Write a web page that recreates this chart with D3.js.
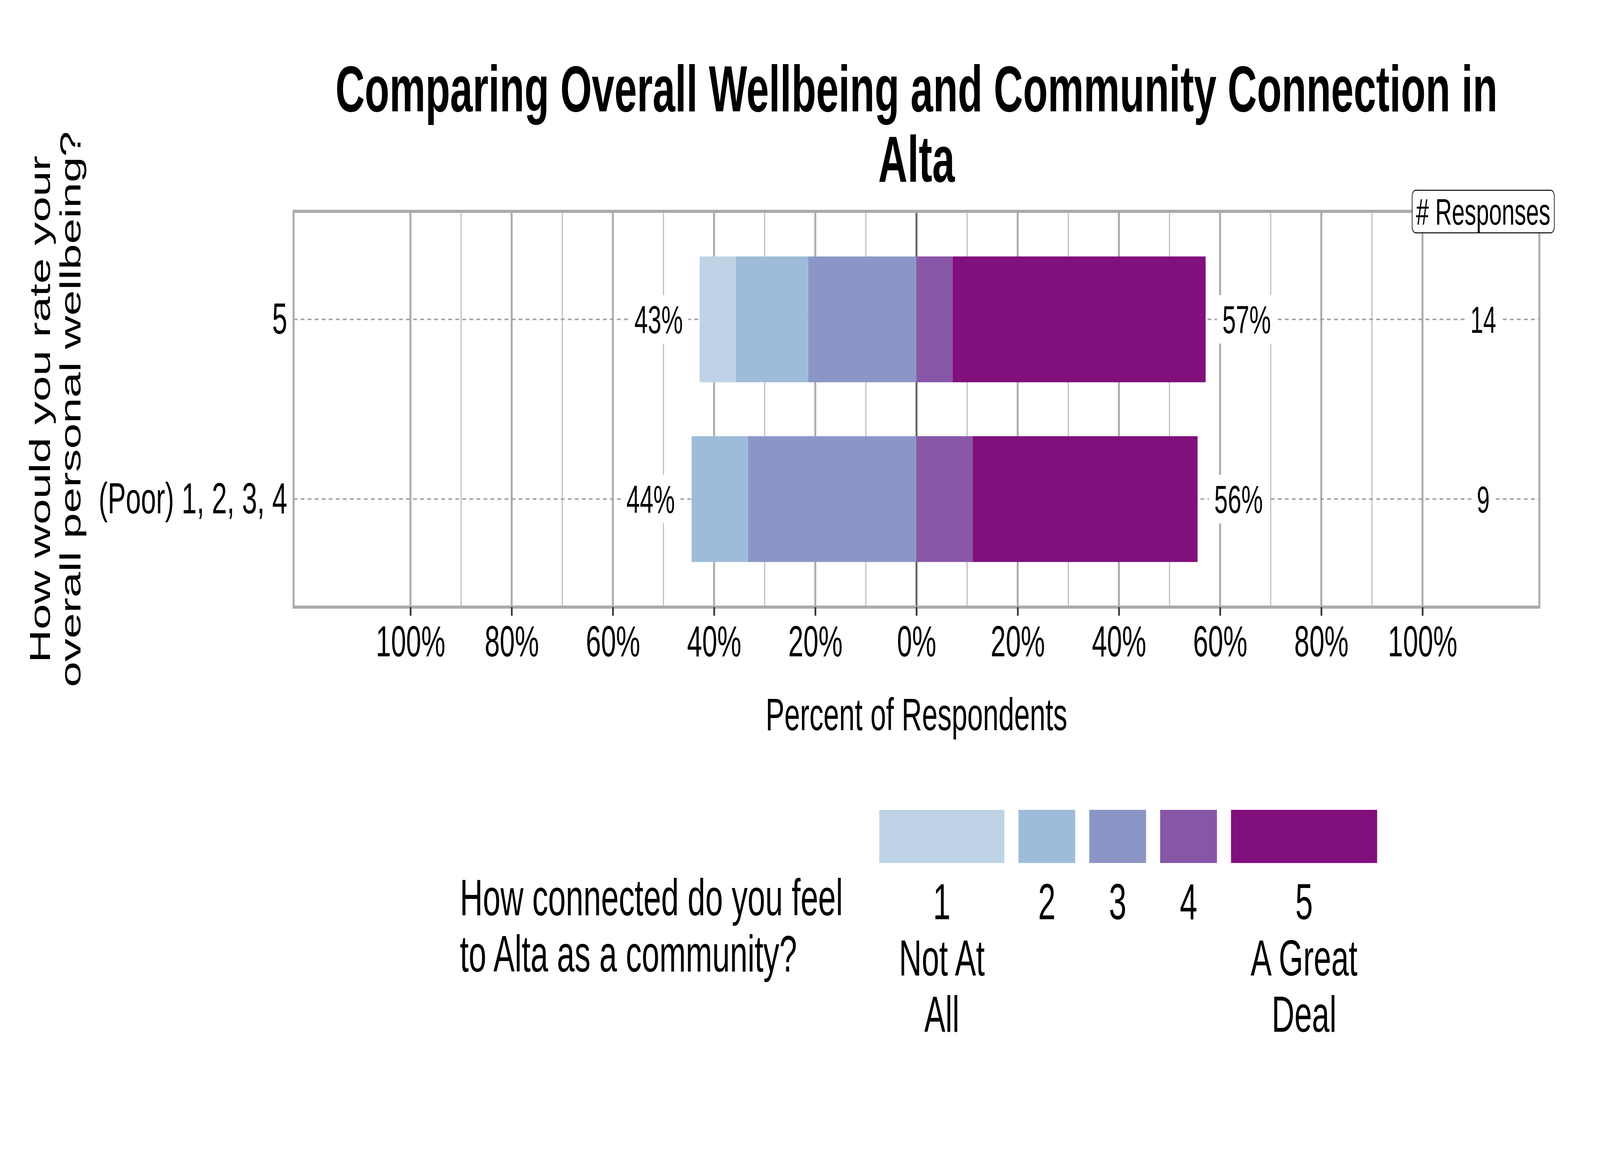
<!DOCTYPE html>
<html>
<head>
<meta charset="utf-8">
<script src="https://cdn.jsdelivr.net/npm/d3@7"></script>
<style>
  html, body { margin: 0; padding: 0; width: 100%; height: 100%; overflow: hidden; background: #fff; }
  #chart { width: 100%; height: 100%; }
  svg { display: block; }
  text { font-family: "Liberation Sans", Arial, sans-serif; fill: #000; }
</style>
</head>
<body>
<div id="chart"></div>
<script>
// data
var rows = ["5", "(Poor) 1, 2, 3, 4"];
var levels = ["1", "2", "3", "4", "5"];
var levelNames = [["1", "Not At", "All"], ["2"], ["3"], ["4"], ["5", "A Great", "Deal"]];
var pctFive = [7.14, 14.29, 21.43, 7.14, 50.0];
var pctPoor = [0, 11.11, 33.33, 11.11, 44.44];
var responses = [14, 9];
var colors = ["#bfd3e6", "#9ebcda", "#8c96c6", "#8856a7", "#810f7c"];
var majorTicks = [-100, -80, -60, -40, -20, 0, 20, 40, 60, 80, 100];
var minorTicks = [-90, -70, -50, -30, -10, 10, 30, 50, 70, 90];
var negLevels = 3; // levels 1..3 go left of zero

var W = 6600, H = 3000;
var panel = {left: 1211, right: 6350, top: 541, bottom: 1554};
var fontFam = '"Liberation Sans", Arial, sans-serif';

// drawn in a 6600x3000 frame, stretched to whatever window we get
var svg = d3.select("#chart").append("svg")
    .attr("viewBox", "0 0 " + W + " " + H)
    .attr("preserveAspectRatio", "none")
    .attr("width", "100%").attr("height", "100%");
svg.append("rect").attr("width", W).attr("height", H).attr("fill", "#fff");

var x = d3.scaleLinear()
    .domain([-123.1, 123.1])
    .range([panel.left, panel.right]);

var y = d3.scalePoint()
    .domain(rows)
    .range([panel.top, panel.bottom])
    .padding(0.601);
var barH = y.step() * 0.7;

var pcts = [pctFive, pctPoor];

// build stacked segments
var segs = [];
var sums = [];
rows.forEach(function(r, ri) {
  var v = pcts[ri];
  var cum = 0;
  for (var i = negLevels - 1; i >= 0; i--) {
    segs.push({row: r, level: i, x0: -(cum + v[i]), x1: -cum});
    cum += v[i];
  }
  var neg = cum;
  cum = 0;
  for (var j = negLevels; j < levels.length; j++) {
    segs.push({row: r, level: j, x0: cum, x1: cum + v[j]});
    cum += v[j];
  }
  sums.push({row: r, neg: neg, pos: cum, n: responses[ri]});
});

// title
var title = svg.append("text")
    .attr("text-anchor", "middle")
    .style("font-size", "167px")
    .style("font-weight", "bold");
title.append("tspan").attr("x", x(0)).attr("y", 285)
    .text("Comparing Overall Wellbeing and Community Connection in");
title.append("tspan").attr("x", x(0)).attr("y", 465).text("Alta");

// gridlines
var grid = svg.append("g");
grid.selectAll(".minor").data(minorTicks).enter().append("line")
    .attr("x1", function(d) { return x(d); }).attr("x2", function(d) { return x(d); })
    .attr("y1", panel.top).attr("y2", panel.bottom)
    .attr("stroke", "#b5b5b5").attr("stroke-width", 4);
grid.selectAll(".major").data(majorTicks).enter().append("line")
    .attr("x1", function(d) { return x(d); }).attr("x2", function(d) { return x(d); })
    .attr("y1", panel.top).attr("y2", panel.bottom)
    .attr("stroke", function(d) { return d === 0 ? "#666" : "#ababab"; })
    .attr("stroke-width", 8);

// dashed row lines
grid.selectAll(".rowline").data(rows).enter().append("line")
    .attr("x1", panel.left).attr("x2", panel.right)
    .attr("y1", function(d) { return y(d); }).attr("y2", function(d) { return y(d); })
    .attr("stroke", "#a3a3a3").attr("stroke-width", 4)
    .attr("stroke-dasharray", "16,13");

// bars
svg.append("g").selectAll("rect").data(segs.filter(function(d) { return d.x1 > d.x0; }))
  .enter().append("rect")
    .attr("x", function(d) { return x(d.x0); })
    .attr("width", function(d) { return x(d.x1) - x(d.x0); })
    .attr("y", function(d) { return y(d.row) - barH / 2; })
    .attr("height", barH)
    .attr("fill", function(d) { return colors[d.level]; });

// labels with white backing
function boxedLabel(g, cx, cy, txt, size, padX, padY) {
  var lg = g.append("g");
  var t = lg.append("text")
      .attr("x", cx).attr("y", cy + size * 0.358)
      .attr("text-anchor", "middle")
      .style("font-size", size + "px")
      .text(txt);
  var w = t.node().getComputedTextLength();
  lg.insert("rect", "text")
      .attr("x", cx - w / 2 - padX).attr("width", w + 2 * padX)
      .attr("y", cy - size * 0.36 - padY).attr("height", size * 0.72 + 2 * padY)
      .attr("fill", "#fff");
  return lg;
}

var labels = svg.append("g");
sums.forEach(function(s) {
  boxedLabel(labels, x(-s.neg - 8.1), y(s.row), Math.round(s.neg) + "%", 100, 22, 26);
  boxedLabel(labels, x(s.pos + 8.1), y(s.row), Math.round(s.pos) + "%", 100, 22, 26);
  boxedLabel(labels, x(112), y(s.row), s.n, 96, 21, 26);
});

// panel border
svg.append("rect")
    .attr("x", panel.left).attr("y", panel.top)
    .attr("width", panel.right - panel.left).attr("height", panel.bottom - panel.top)
    .attr("fill", "none").attr("stroke", "#ababab").attr("stroke-width", 8);

// # Responses header
var hdr = svg.append("g");
var hdrText = hdr.append("text")
    .attr("x", x(112)).attr("y", panel.top + 95 * 0.36)
    .attr("text-anchor", "middle")
    .style("font-size", "95px")
    .text("# Responses");
var hw = hdrText.node().getComputedTextLength();
hdr.insert("rect", "text")
    .attr("x", x(112) - hw / 2 - 16).attr("width", hw + 32)
    .attr("y", panel.top - 54).attr("height", 109)
    .attr("rx", 15).attr("ry", 15)
    .attr("fill", "#fff").attr("stroke", "#000").attr("stroke-width", 2.5);

// x axis
var xAxis = svg.append("g")
    .attr("transform", "translate(0," + panel.bottom + ")")
    .call(d3.axisBottom(x).tickValues(majorTicks)
      .tickFormat(function(d) { return Math.abs(d) + "%"; })
      .tickSize(22).tickPadding(24));
xAxis.select(".domain").remove();
xAxis.selectAll(".tick line").attr("stroke", "#333").attr("stroke-width", 7);
xAxis.selectAll(".tick text")
    .style("font-size", "112px").style("font-family", fontFam).attr("fill", "#000");

svg.append("text")
    .attr("x", x(0)).attr("y", 1869)
    .attr("text-anchor", "middle")
    .style("font-size", "116px")
    .text("Percent of Respondents");

// y axis
var yAxis = svg.append("g")
    .attr("transform", "translate(" + panel.left + ",0)")
    .call(d3.axisLeft(y).tickSize(0).tickPadding(26));
yAxis.select(".domain").remove();
yAxis.selectAll(".tick text")
    .style("font-size", "112px").style("font-family", fontFam).attr("fill", "#000");

var yTitle = ["How would you rate your", "overall personal wellbeing?"];
svg.selectAll(".ytitle").data(yTitle).enter().append("text")
    .attr("transform", function(d, i) {
      return "translate(" + (207 + i * 125) + "," + ((panel.top + panel.bottom) / 2) + ") rotate(-90)";
    })
    .attr("text-anchor", "middle")
    .style("font-size", "118px")
    .text(function(d) { return d; });

// legend
var leg = svg.append("g");
var legTitle = ["How connected do you feel", "to Alta as a community?"];
leg.selectAll(".lt").data(legTitle).enter().append("text")
    .attr("x", 1897)
    .attr("y", function(d, i) { return 2343 + i * 144; })
    .style("font-size", "131px")
    .text(function(d) { return d; });

var keyX = 3627, keyGap = 58, keyMin = 227, keyTop = 2073, keyH = 136;
levels.forEach(function(lv, i) {
  var kg = leg.append("g");
  var t = kg.append("text")
      .attr("text-anchor", "middle")
      .style("font-size", "130px");
  t.selectAll("tspan").data(levelNames[i]).enter().append("tspan")
      .attr("x", 0)
      .attr("y", function(d, k) { return 2353 + k * 144; })
      .text(function(d) { return d; });
  var tw = t.node().getBBox().width;
  var kw = Math.max(keyMin, tw + 162);
  t.selectAll("tspan").attr("x", keyX + kw / 2);
  kg.append("rect")
      .attr("x", keyX).attr("y", keyTop)
      .attr("width", kw).attr("height", keyH)
      .attr("fill", colors[i]);
  keyX += kw + keyGap;
});
</script>
</body>
</html>
